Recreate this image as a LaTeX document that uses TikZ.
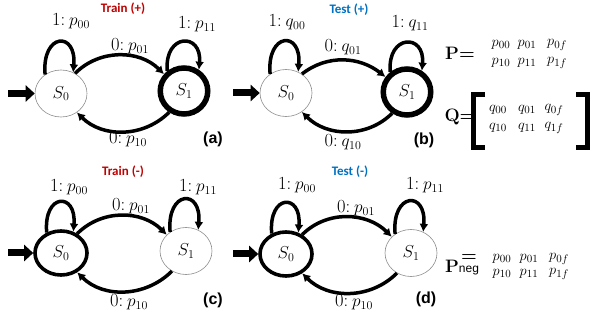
\documentclass[tikz,border=0pt]{standalone}
\usepackage{fontspec}
\newfontfamily\capfont{Carlito}
\newfontfamily\arialfont{Liberation Sans}
\usetikzlibrary{arrows.meta,shapes.geometric}
\definecolor{trainred}{RGB}{192,0,0}
\definecolor{testblue}{RGB}{0,112,192}
\newcommand{\tlab}[2]{#1:\kern0.22em$#2$}
\begin{document}
\begin{tikzpicture}[x=1pt,y=1pt,
  st/.style={ellipse, minimum width=52pt, minimum height=47pt, inner sep=0pt, font=\fontsize{18}{20}\selectfont},
  thin/.style={st, draw=black!45, line width=0.6pt},
  thk/.style={st, draw, line width=5.5pt, minimum width=47.5pt, minimum height=46pt},
  mid/.style={st, draw, line width=3.6pt, minimum width=52pt, minimum height=44pt},
  edge/.style={line width=3.5pt, -{Latex[length=8pt,width=9pt]}},
  init/.style={line width=7pt, -{Triangle[length=9pt,width=16pt]}},
  lbl/.style={inner sep=0pt, font=\fontsize{18.5}{20}\selectfont},
  ttl/.style={inner sep=0pt, font=\capfont\bfseries\fontsize{13}{15}\selectfont},
  tag/.style={inner sep=0pt, font=\arialfont\bfseries\fontsize{16}{18}\selectfont},
  ent/.style={inner sep=0pt, font=\fontsize{15}{17}\selectfont},
  mat/.style={inner sep=0pt, font=\fontsize{18}{20}\selectfont},
  brk/.style={line width=5pt},
]
\useasboundingbox (0,0) rectangle (591,321);

% ---------- panel (a)
\node[thin] (a0) at (61,227.5) {$S_0$};
\node[thk]  (a1) at (184,230) {$S_1$};
\coordinate (ai) at (8,227.5);
\draw[init] (ai) -- (a0);
\draw[edge] (a0.130) .. controls +(95:42) and +(85:42) .. (a0.60);
\draw[edge] (a1.130) .. controls +(95:38) and +(85:38) .. (a1.55);
\draw[edge] (a0.55) to[out=45,in=135] (a1.140);
\draw[edge] (a1.235) to[out=-135,in=-45] (a0.310);
\node[ttl,text=trainred] (ta) at (123,312) {Train (+)};
\node[lbl] (la00) at (71,300) {\tlab{1}{p_{00}}};
\node[lbl] (la01) at (130,275) {\tlab{0}{p_{01}}};
\node[lbl] (la11) at (197,297) {\tlab{1}{p_{11}}};
\node[lbl] (la10) at (128,182) {\tlab{0}{p_{10}}};
\node[tag] (tga) at (213,182) {(a)};

% ---------- panel (b)
\node[thin] (b0) at (286,228) {$S_0$};
\node[thk]  (b1) at (407,229) {$S_1$};
\coordinate (bi) at (233,228);
\draw[init] (bi) -- (b0);
\draw[edge] (b0.130) .. controls +(95:42) and +(85:42) .. (b0.60);
\draw[edge] (b1.130) .. controls +(95:38) and +(85:38) .. (b1.55);
\draw[edge] (b0.50) to[out=38,in=142] (b1.145);
\draw[edge] (b1.235) to[out=-135,in=-45] (b0.310);
\node[ttl,text=testblue] (tb) at (349,311) {Test (+)};
\node[lbl] (lb00) at (287,299) {\tlab{1}{q_{00}}};
\node[lbl] (lb01) at (343,274) {\tlab{0}{q_{01}}};
\node[lbl] (lb11) at (410,298) {\tlab{1}{q_{11}}};
\node[lbl] (lb10) at (343,179) {\tlab{0}{q_{10}}};
\node[tag] (tgb) at (424,181) {(b)};

% ---------- panel (c)
\node[mid]  (c0) at (61,68) {$S_0$};
\node[thin] (c1) at (186,70) {$S_1$};
\coordinate (ci) at (8,68);
\draw[init] (ci) -- (c0);
\draw[edge] (c0.125) .. controls +(95:40) and +(85:40) .. (c0.60);
\draw[edge] (c1.130) .. controls +(95:42) and +(85:42) .. (c1.60);
\draw[edge] (c0.50) to[out=45,in=135] (c1.140);
\draw[edge] (c1.235) to[out=-135,in=-45] (c0.310);
\node[ttl,text=trainred] (tc) at (123,149) {Train (-)};
\node[lbl] (lc00) at (69,134) {\tlab{1}{p_{00}}};
\node[lbl] (lc01) at (131,115) {\tlab{0}{p_{01}}};
\node[lbl] (lc11) at (198,134) {\tlab{1}{p_{11}}};
\node[lbl] (lc10) at (129,19) {\tlab{0}{p_{10}}};
\node[tag] (tgc) at (213,21) {(c)};

% ---------- panel (d)
\node[mid]  (d0) at (286,67) {$S_0$};
\node[thin] (d1) at (411,68) {$S_1$};
\coordinate (di) at (233,67);
\draw[init] (di) -- (d0);
\draw[edge] (d0.125) .. controls +(95:40) and +(85:40) .. (d0.60);
\draw[edge] (d1.130) .. controls +(95:42) and +(85:42) .. (d1.60);
\draw[edge] (d0.50) to[out=45,in=135] (d1.140);
\draw[edge] (d1.235) to[out=-135,in=-45] (d0.310);
\node[ttl,text=testblue] (td) at (350,149) {Test (-)};
\node[lbl] (ld00) at (297,136) {\tlab{1}{p_{00}}};
\node[lbl] (ld01) at (356,113) {\tlab{0}{p_{01}}};
\node[lbl] (ld11) at (425,136) {\tlab{1}{p_{11}}};
\node[lbl] (ld10) at (354,19) {\tlab{0}{p_{10}}};
\node[tag] (tgd) at (426,22) {(d)};

% ---------- matrix P
\node[mat] (Peq) at (460,268) {\textbf{P=}};
\node[ent] (P00) at (501,276) {$p_{00}$};
\node[ent] (P01) at (527,276) {$p_{01}$};
\node[ent] (P0f) at (557,276) {$p_{0f}$};
\node[ent] (P10) at (501,258) {$p_{10}$};
\node[ent] (P11) at (527,258) {$p_{11}$};
\node[ent] (P1f) at (557,258) {$p_{1f}$};

% ---------- matrix Q
\node[mat] (Qeq) at (460,204) {\textbf{Q=}};
\node[ent] (Q00) at (498,211) {$q_{00}$};
\node[ent] (Q01) at (527,211) {$q_{01}$};
\node[ent] (Q0f) at (554,211) {$q_{0f}$};
\node[ent] (Q10) at (498,193) {$q_{10}$};
\node[ent] (Q11) at (527,193) {$q_{11}$};
\node[ent] (Q1f) at (554,193) {$q_{1f}$};
\draw[brk] (485,226) -- (473,226) -- (473,173) -- (485,173);
\draw[brk] (576,226) -- (587,226) -- (587,173) -- (576,173);

% ---------- matrix P_neg
\node[mat] (Pn) at (452,55) {\textbf{P}};
\node[inner sep=0pt,font=\fontsize{18}{20}\selectfont] (Pneq) at (469,63) {\textbf{=}};
\node[inner sep=0pt,font=\arialfont\fontsize{12}{14}\selectfont] (neg) at (469,50) {neg};
\node[ent] (N00) at (502,62) {$p_{00}$};
\node[ent] (N01) at (529,62) {$p_{01}$};
\node[ent] (N0f) at (559,62) {$p_{0f}$};
\node[ent] (N10) at (502,47) {$p_{10}$};
\node[ent] (N11) at (529,47) {$p_{11}$};
\node[ent] (N1f) at (559,47) {$p_{1f}$};
\end{tikzpicture}
\end{document}
